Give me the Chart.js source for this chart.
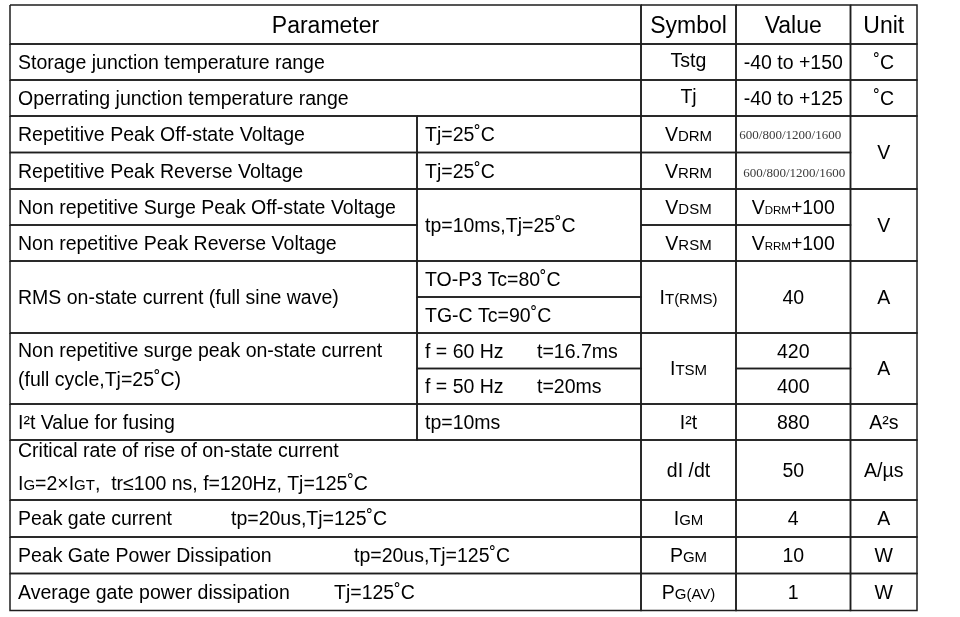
<!DOCTYPE html>
<html>
<head>
<meta charset="utf-8">
<script src="https://cdn.jsdelivr.net/npm/chart.js@4"></script>
<style>
    html, body { margin: 0; background: #ffffff; }
    #wrap { width: 960px; height: 617px; }
</style>
</head>
<body>
<div id="wrap"><canvas id="table"></canvas></div>
<script>
// table contents ( _{..} marks a subscript, \n a new line, \t a tab stop )
const headers = ['Parameter', 'Symbol', 'Value', 'Unit'];
const parameters = [
    'Storage junction temperature range',
    'Operrating junction temperature range',
    'Repetitive Peak Off-state Voltage',
    'Repetitive Peak Reverse Voltage',
    'Non repetitive Surge Peak Off-state Voltage',
    'Non repetitive Peak Reverse Voltage',
    'RMS on-state current (full sine wave)',
    'Non repetitive surge peak on-state current\n(full cycle,Tj=25˚C)',
    'I²t Value for fusing',
    'Critical rate of rise of on-state current\nI_{G}=2×I_{GT},  tr≤100 ns, f=120Hz, Tj=125˚C',
    'Peak gate current\ttp=20us,Tj=125˚C',
    'Peak Gate Power Dissipation\ttp=20us,Tj=125˚C',
    'Average gate power dissipation\tTj=125˚C'
];
const conditions = ['Tj=25˚C', 'Tj=25˚C', 'tp=10ms,Tj=25˚C', 'TO-P3 Tc=80˚C', 'TG-C Tc=90˚C',
    'f = 60 Hz\tt=16.7ms', 'f = 50 Hz\tt=20ms', 'tp=10ms'];
const symbols = ['Tstg', 'Tj', 'V_{DRM}', 'V_{RRM}', 'V_{DSM}', 'V_{RSM}', 'I_{T(RMS)}', 'I_{TSM}',
    'I²t', 'dI /dt', 'I_{GM}', 'P_{GM}', 'P_{G(AV)}'];
const values = ['-40 to +150', '-40 to +125', '600/800/1200/1600', '600/800/1200/1600',
    'V_{DRM}+100', 'V_{RRM}+100', '40', '420', '400', '880', '50', '4', '10', '1'];
const units = ['˚C', '˚C', 'V', 'V', 'A', 'A', 'A²s', 'A/µs', 'A', 'W', 'W'];

// grid layout (page units)
const rowLines = [5, 44, 80, 116, 152.5, 189, 225, 261, 297, 333, 368.5, 404, 440, 500, 537, 573.5, 610.5];
const colLines = [10, 417, 641, 736, 850.5, 917];

const sources = { headers, parameters, conditions, symbols, values, units };

function cell(src, i, r0, r1, c0, c1, extra) {
    return Object.assign({ src, i, r0, r1, c0, c1, align: (src === 'parameters' || src === 'conditions') ? 'left' : 'center' }, extra || {});
}

const cells = [
    cell('headers', 0, 0, 1, 0, 2, { style: 'head', dy: 0.5 }),
    cell('headers', 1, 0, 1, 2, 3, { style: 'head' }),
    cell('headers', 2, 0, 1, 3, 4, { style: 'head', dy: 0.5 }),
    cell('headers', 3, 0, 1, 4, 5, { style: 'head', dy: 0.5 }),

    cell('parameters', 0, 1, 2, 0, 2), cell('symbols', 0, 1, 2, 2, 3, { dy: -1.5 }), cell('values', 0, 1, 2, 3, 4), cell('units', 0, 1, 2, 4, 5),
    cell('parameters', 1, 2, 3, 0, 2), cell('symbols', 1, 2, 3, 2, 3, { dy: -1.5 }), cell('values', 1, 2, 3, 3, 4), cell('units', 1, 2, 3, 4, 5),

    cell('parameters', 2, 3, 4, 0, 1), cell('conditions', 0, 3, 4, 1, 2), cell('symbols', 2, 3, 4, 2, 3),
    cell('values', 2, 3, 4, 3, 4, { style: 'serif', dx: -3 }), cell('units', 2, 3, 5, 4, 5),
    cell('parameters', 3, 4, 5, 0, 1), cell('conditions', 1, 4, 5, 1, 2), cell('symbols', 3, 4, 5, 2, 3),
    cell('values', 3, 4, 5, 3, 4, { style: 'serif', dx: 1, dy: 2 }),

    cell('parameters', 4, 5, 6, 0, 1), cell('conditions', 2, 5, 7, 1, 2), cell('symbols', 4, 5, 6, 2, 3),
    cell('values', 4, 5, 6, 3, 4, { sub: 11.5 }), cell('units', 3, 5, 7, 4, 5),
    cell('parameters', 5, 6, 7, 0, 1), cell('symbols', 5, 6, 7, 2, 3), cell('values', 5, 6, 7, 3, 4, { sub: 11.5 }),

    cell('parameters', 6, 7, 9, 0, 1), cell('conditions', 3, 7, 8, 1, 2), cell('conditions', 4, 8, 9, 1, 2),
    cell('symbols', 6, 7, 9, 2, 3), cell('values', 6, 7, 9, 3, 4), cell('units', 4, 7, 9, 4, 5),

    cell('parameters', 7, 9, 11, 0, 1, { lh: 28.5, dy: -4 }),
    cell('conditions', 5, 9, 10, 1, 2, { tab: 537 }), cell('conditions', 6, 10, 11, 1, 2, { tab: 537 }),
    cell('symbols', 7, 9, 11, 2, 3), cell('values', 7, 9, 10, 3, 4), cell('values', 8, 10, 11, 3, 4), cell('units', 5, 9, 11, 4, 5),

    cell('parameters', 8, 11, 12, 0, 1), cell('conditions', 7, 11, 12, 1, 2), cell('symbols', 8, 11, 12, 2, 3),
    cell('values', 9, 11, 12, 3, 4), cell('units', 6, 11, 12, 4, 5),

    cell('parameters', 9, 12, 13, 0, 2, { lh: 32.5, dy: -3.5 }), cell('symbols', 9, 12, 13, 2, 3),
    cell('values', 10, 12, 13, 3, 4), cell('units', 7, 12, 13, 4, 5),

    cell('parameters', 10, 13, 14, 0, 2, { tab: 231 }), cell('symbols', 10, 13, 14, 2, 3),
    cell('values', 11, 13, 14, 3, 4), cell('units', 8, 13, 14, 4, 5),
    cell('parameters', 11, 14, 15, 0, 2, { tab: 354 }), cell('symbols', 11, 14, 15, 2, 3),
    cell('values', 12, 14, 15, 3, 4), cell('units', 9, 14, 15, 4, 5),
    cell('parameters', 12, 15, 16, 0, 2, { tab: 334 }), cell('symbols', 12, 15, 16, 2, 3),
    cell('values', 13, 15, 16, 3, 4), cell('units', 10, 15, 16, 4, 5)
];

const SANS = 'Arial, "Liberation Sans", sans-serif';
const SERIF = '"Times New Roman", "Liberation Serif", serif';

// every cell outline becomes a closed line dataset on the page scales
const datasets = cells.map(c => {
    const x0 = colLines[c.c0], x1 = colLines[c.c1], y0 = rowLines[c.r0], y1 = rowLines[c.r1];
    return {
        data: [{ x: x0, y: y0 }, { x: x1, y: y0 }, { x: x1, y: y1 }, { x: x0, y: y1 }, { x: x0, y: y0 }],
        showLine: true,
        borderColor: '#1e1e1e',
        borderWidth: 1.5,
        pointRadius: 0,
        pointHoverRadius: 0,
        fill: false,
        tension: 0
    };
});

function drawRich(ctx, text, x, baseline, align, size, subSize, family) {
    const parts = text.split(/_\{([^}]*)\}/);
    const runs = parts.map((t, k) => ({ t, font: (k % 2 ? subSize : size) + 'px ' + family }));
    let width = 0;
    runs.forEach(r => { ctx.font = r.font; r.w = ctx.measureText(r.t).width; width += r.w; });
    let cx = align === 'center' ? x - width / 2 : x;
    runs.forEach(r => { ctx.font = r.font; ctx.fillText(r.t, cx, baseline); cx += r.w; });
}

const cellText = {
    id: 'cellText',
    afterDatasetsDraw(chart) {
        const ctx = chart.ctx;
        const xs = chart.scales.x, ys = chart.scales.y;
        ctx.save();
        ctx.textBaseline = 'alphabetic';
        ctx.textAlign = 'left';
        cells.forEach(c => {
            const text = sources[c.src][c.i];
            let size = 19.5, sub = c.sub || 15, family = SANS, color = '#000000';
            if (c.style === 'head') size = 23;
            if (c.style === 'serif') { size = 13; family = SERIF; color = '#3a3a3a'; }
            ctx.fillStyle = color;
            const left = xs.getPixelForValue(colLines[c.c0]);
            const right = xs.getPixelForValue(colLines[c.c1]);
            const top = ys.getPixelForValue(rowLines[c.r0]);
            const bottom = ys.getPixelForValue(rowLines[c.r1]);
            const lines = text.split('\n');
            const lh = c.lh || 28;
            const midY = (top + bottom) / 2 + (c.dy || 0);
            const x = (c.align === 'center' ? (left + right) / 2 : left + 8) + (c.dx || 0);
            lines.forEach((line, k) => {
                const cy = midY + (k - (lines.length - 1) / 2) * lh;
                const base = cy + size * 0.35;
                const pieces = line.split('\t');
                drawRich(ctx, pieces[0], x, base, c.align, size, sub, family);
                if (pieces.length > 1) {
                    drawRich(ctx, pieces[1], xs.getPixelForValue(c.tab), base, 'left', size, sub, family);
                }
            });
        });
        ctx.restore();
    }
};

window.onload = function () {
    const ctx = document.getElementById('table');
    new Chart(ctx, {
        type: 'scatter',
        data: { datasets },
        options: {
            responsive: true,
            maintainAspectRatio: false,
            animation: false,
            events: [],
            layout: { padding: 0 },
            plugins: { legend: { display: false }, tooltip: { enabled: false } },
            scales: {
                x: { type: 'linear', min: 0, max: 960, display: false },
                y: { type: 'linear', min: 0, max: 617, reverse: true, display: false }
            }
        },
        plugins: [cellText]
    });
};
</script>
</body>
</html>
